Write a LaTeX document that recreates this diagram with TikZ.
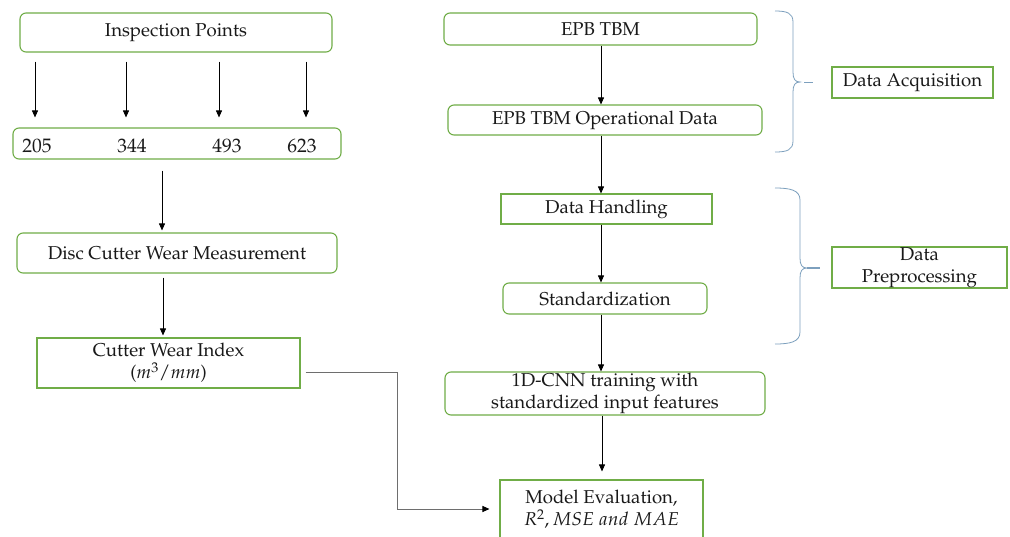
\documentclass[tikz,border=0pt]{standalone}
\usepackage[T1]{fontenc}
\usepackage{mathpazo}
\usetikzlibrary{arrows.meta}
\definecolor{boxgreen}{RGB}{112,173,71}
\definecolor{inkcol}{RGB}{25,25,25}
\definecolor{bracecol}{RGB}{125,160,190}
\definecolor{linkgray}{RGB}{110,110,110}

\begin{document}
\begin{tikzpicture}[x=1pt,y=-1pt,
  box/.style={draw=boxgreen, line width=1.1pt, fill=white, text=inkcol, align=center,
              inner sep=0pt, font=\fontsize{18.6}{22}\selectfont},
  rbox/.style={box, rounded corners=6pt},
  numtxt/.style={text=inkcol, inner sep=0pt, font=\fontsize{19.5}{22}\selectfont},
  arr/.style={-{Triangle[length=7pt,width=6pt]}, line width=0.9pt, draw=black},
  elbow/.style={-{Triangle[length=7pt,width=6pt,color=black]}, line width=1pt, draw=linkgray},
  brace/.style={draw=bracecol, line width=0.8pt}]

% page frame
\fill[white] (0,0) rectangle (1010,536);
\useasboundingbox (0,0) rectangle (1010,536);

% left column
\node[rbox, minimum width=312pt, minimum height=39pt] (insp) at (176,32.5) {Inspection Points};
\node[rbox, minimum width=328pt, minimum height=31pt] (nums) at (177,143.5) {};
\node[numtxt] (p205) at (37,146) {205};
\node[numtxt] (p344) at (132,146) {344};
\node[numtxt] (p493) at (227,146) {493};
\node[numtxt] (p623) at (302,146) {623};
\node[rbox, minimum width=320pt, minimum height=40pt] (disc) at (177,253) {Disc Cutter Wear Measurement};
\node[box, minimum width=263pt, minimum height=50pt] (cwi) at (168.5,363) {Cutter Wear Index\\($m^3/mm$)};

% right column
\node[rbox, minimum width=313pt, minimum height=32pt] (epb) at (600.5,29) {EPB TBM};
\node[rbox, minimum width=314pt, minimum height=30pt] (opd) at (605,120) {EPB TBM Operational Data};
\node[box, minimum width=211pt, minimum height=30pt] (dh) at (606.5,209) {Data Handling};
\node[rbox, minimum width=204pt, minimum height=31pt] (std) at (605,298.5) {Standardization};
\node[rbox, minimum width=320pt, minimum height=43pt] (cnn) at (605,393.5) {1D-CNN training with\\standardized input features};
\node[box, minimum width=203pt, minimum height=59pt] (eval) at (601.5,509.5) {Model Evaluation,\\$R^2, MSE\ and\ MAE$};

% stage labels
\node[box, minimum width=161pt, minimum height=31pt] (acq) at (912.5,82.5) {Data Acquisition};
\node[box, minimum width=175pt, minimum height=41pt] (pre) at (919.5,267.5) {Data\\Preprocessing};

% arrow columns
\coordinate (c1) at (35,0);
\coordinate (c2) at (126,0);
\coordinate (c3) at (219,0);
\coordinate (c4) at (306,0);
\coordinate (c5) at (162,0);
\coordinate (c6) at (163,0);
\coordinate (cr) at (601,0);
\coordinate (cm) at (602,0);

\foreach \c in {c1,c2,c3,c4}
  \draw[arr] ([yshift=-9pt]insp.south -| \c) -- ([yshift=10pt]nums.north -| \c);
\draw[arr] ([yshift=-11pt]nums.south -| c5) -- ([yshift=2pt]disc.north -| c5);
\draw[arr] ([yshift=-4pt]disc.south -| c6) -- ([yshift=2pt]cwi.north -| c6);

\draw[arr] (epb.south -| cr) -- (opd.north -| cr);
\draw[arr] (opd.south -| cr) -- (dh.north -| cr);
\draw[arr] (dh.south -| cr) -- (std.north -| cr);
\draw[arr] (std.south -| cr) -- (cnn.north -| cr);
\draw[arr] (cnn.south -| cm) -- ([yshift=8pt]eval.north -| cm);

% wear index feeds the evaluation
\coordinate (k1) at (397,372);
\coordinate (k2) at (397,509);
\draw[elbow] ([xshift=5pt]cwi.east |- k1) -- (k1) -- (k2) -- ([xshift=-10pt]eval.west |- k2);

% braces grouping the stages
\draw[brace] (775,11) .. controls (787,11) and (793,13) .. (793,22) -- (793,72)
  .. controls (793,79) and (795,82) .. (800,82)
  .. controls (795,82) and (793,85) .. (793,92) -- (793,141)
  .. controls (793,150) and (787,152) .. (775,152);
\draw[brace] (804,82) -- (813,82);

\draw[brace] (775,188) .. controls (790,188) and (800,190) .. (800,200) -- (800,258)
  .. controls (800,265) and (802,268) .. (807,268)
  .. controls (802,268) and (800,271) .. (800,278) -- (800,332)
  .. controls (800,342) and (790,344) .. (775,344);
\draw[brace, line width=1.2pt] (807,268) -- (820,268);
\end{tikzpicture}
\end{document}
